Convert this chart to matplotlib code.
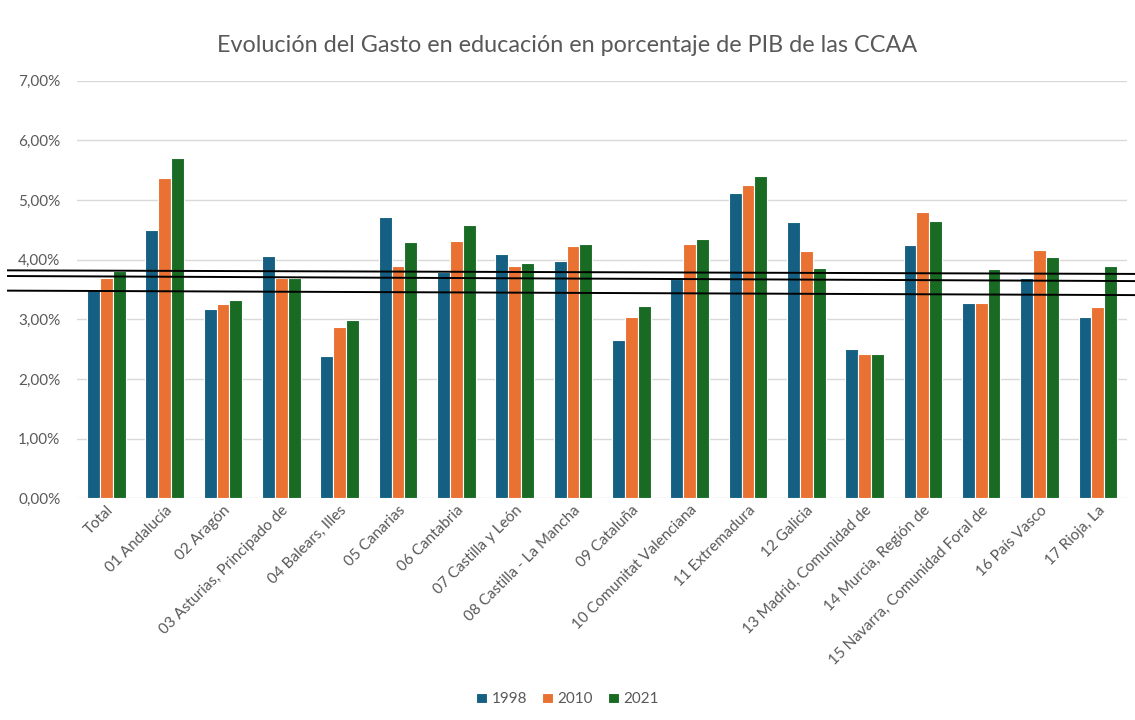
import numpy as np
import matplotlib.pyplot as plt
import matplotlib.transforms as mtransforms
from matplotlib.ticker import FuncFormatter

categories = ["Total", "01 Andalucía", "02 Aragón", "03 Asturias, Principado de",
              "04 Balears, Illes", "05 Canarias", "06 Cantabria", "07 Castilla y León",
              "08 Castilla - La Mancha", "09 Cataluña", "10 Comunitat Valenciana",
              "11 Extremadura", "12 Galicia", "13 Madrid, Comunidad de",
              "14 Murcia, Región de", "15 Navarra, Comunidad Foral de",
              "16 País Vasco", "17 Rioja, La"]

years = ["1998", "2010", "2021"]
v1998 = [3.50, 4.49, 3.18, 4.06, 2.38, 4.71, 3.79, 4.10, 3.98, 2.65, 3.68, 5.11, 4.63, 2.51, 4.24, 3.27, 3.70, 3.03]
v2010 = [3.70, 5.36, 3.26, 3.70, 2.87, 3.89, 4.31, 3.90, 4.22, 3.03, 4.27, 5.25, 4.14, 2.42, 4.80, 3.27, 4.16, 3.20]
v2021 = [3.81, 5.70, 3.32, 3.70, 2.99, 4.30, 4.58, 3.95, 4.26, 3.23, 4.34, 5.40, 3.86, 2.42, 4.64, 3.84, 4.04, 3.90]

# hand-drawn reference lines (start / end level, in %)
line_start = [3.82, 3.725, 3.48]
line_end = [3.76, 3.64, 3.405]

colors = ["#156082", "#E97132", "#196B24"]
grey = "#595959"

plt.rcParams['font.family'] = ['Lato', 'DejaVu Sans']

fig = plt.figure(figsize=(11.35, 7.2), dpi=100)
ax = fig.add_axes([0.068, 0.308, 0.925, 0.58])

x = np.arange(len(categories))
width = 0.22
for i, (vals, yr) in enumerate(zip([v1998, v2010, v2021], years)):
    ax.bar(x + (i - 1) * width, np.array(vals) / 100, width, color=colors[i],
           edgecolor="white", linewidth=0.8, label=yr, zorder=2)

ax.set_ylim(0, 0.07)
ax.set_xlim(-0.5, len(categories) - 0.5)
ax.set_yticks(np.arange(0, 0.0701, 0.01))
ax.yaxis.set_major_formatter(FuncFormatter(lambda v, p: f"{v*100:.2f}%".replace(".", ",")))
ax.grid(axis="y", color="#d9d9d9", linewidth=1, zorder=0)
for s in ax.spines.values():
    s.set_visible(False)
ax.tick_params(axis="both", length=0, colors=grey, labelsize=11)
ax.tick_params(axis="y", pad=12)
ax.set_xticks(x)
ax.set_xticklabels(categories, rotation=45, ha="right", rotation_mode="anchor")

fig.text(0.5, 1 - 45 / 720, "Evolución del Gasto en educación en porcentaje de PIB de las CCAA",
         color=grey, fontsize=16.8, ha="center", va="center")

trans = mtransforms.blended_transform_factory(fig.transFigure, ax.transData)
for a, b in zip(line_start, line_end):
    ax.plot([8 / 1135, 1.0], [a / 100, b / 100], color="black", linewidth=1.4,
            transform=trans, clip_on=False, zorder=5)

fig.legend(loc="lower center", ncol=3, frameon=False, fontsize=11,
           bbox_to_anchor=(0.5, 0.0), handlelength=0.7, handleheight=0.7,
           handletextpad=0.3, columnspacing=1.0, labelcolor=grey)

fig.savefig("out.png", dpi=100)
